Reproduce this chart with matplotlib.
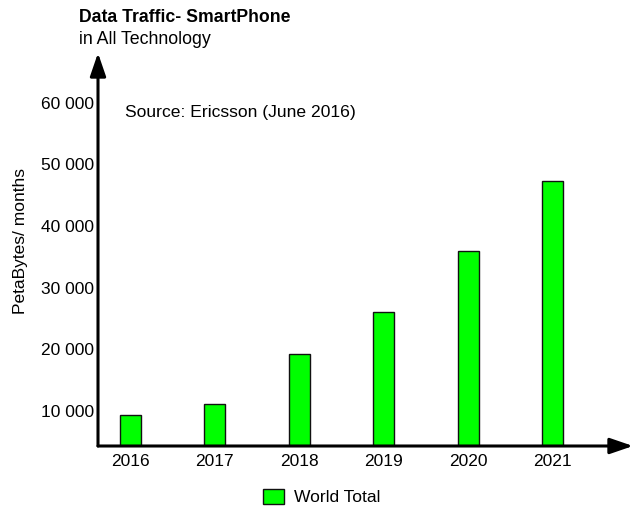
import matplotlib
matplotlib.use('Agg')
import matplotlib.pyplot as plt

plt.rcParams['font.family'] = ['Liberation Sans', 'DejaVu Sans']

years = ['2016', '2017', '2018', '2019', '2020', '2021']
world_total = [9400, 11100, 19200, 26000, 36000, 47300]
ytick_values = [10000, 20000, 30000, 40000, 50000, 60000]
ytick_labels = ['10 000', '20 000', '30 000', '40 000', '50 000', '60 000']

W, H = 635, 508
fig = plt.figure(figsize=(W / 100, H / 100), dpi=100)
# axes box in pixels: left 98, right 633, top 53, bottom 446
ax = fig.add_axes([98 / W, 1 - 446 / H, (633 - 98) / W, (446 - 53) / H])

x = range(len(years))
ax.bar(x, world_total, width=0.25, color='#00ff00', edgecolor='#111111',
       linewidth=1.0, label='World Total', zorder=2)

ax.set_xlim(-0.385, 5.954)
ax.set_ylim(4320, 68060)

for s in ax.spines.values():
    s.set_visible(False)

ax.set_xticks(list(x))
ax.set_xticklabels(years, fontsize=12.5)
ax.set_yticks(ytick_values)
ax.set_yticklabels(ytick_labels, fontsize=12.5)
ax.tick_params(length=0, pad=3)
ax.tick_params(axis='x', pad=6)

# axis lines with arrow heads
arrow = dict(arrowstyle='-|>,head_length=0.7,head_width=0.24', lw=2.2,
             color='black', shrinkA=0, shrinkB=0, mutation_scale=20)
ax.annotate('', xy=(1, 0), xytext=(0, 0), xycoords='axes fraction',
            arrowprops=arrow, annotation_clip=False)
ax.annotate('', xy=(0, 1), xytext=(0, 0), xycoords='axes fraction',
            arrowprops=arrow, annotation_clip=False)

ax.set_ylabel('PetaBytes/ months', fontsize=12.5)
ax.yaxis.set_label_coords(-70 / (633 - 98), (446 - 241) / (446 - 53))

fig.text(79 / W, 1 - 18 / H, 'Data Traffic- SmartPhone', fontsize=12.7,
         fontweight='bold', va='center', ha='left')
fig.text(79 / W, 1 - 39 / H, 'in All Technology', fontsize=12.8,
         va='center', ha='left')
fig.text(125 / W, 1 - 112 / H, 'Source: Ericsson (June 2016)', fontsize=12.6,
         va='center', ha='left')

fig.legend(loc='center left', bbox_to_anchor=(247 / W, 1 - 497 / H),
           frameon=False, fontsize=12.6, handlelength=1.23, handleheight=0.94,
           handletextpad=0.53)

fig.savefig('out.png', dpi=100)
